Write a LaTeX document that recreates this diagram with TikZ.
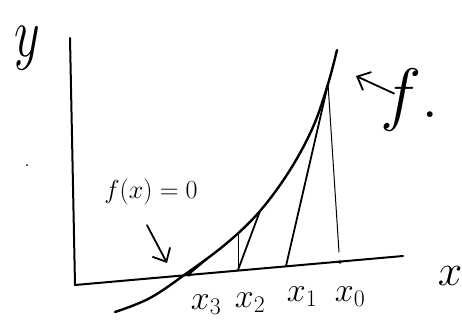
\RequirePackage{fix-cm}
\documentclass[tikz,border=0pt]{standalone}
\usetikzlibrary{calc, positioning}
\usetikzlibrary{arrows.meta}

\tikzset{
  axis line/.style={line width=2pt},
  curve line/.style={line width=2.4pt},
  tan line/.style={line width=1.8pt},
  thin line/.style={line width=1pt},
  pointer/.style={line width=1.8pt, -{Straight Barb[length=11pt, width=20pt, line width=1.8pt]}},
  handlab/.style={inner sep=0pt}
}

\begin{document}
\begin{tikzpicture}[x=1pt, y=-1pt, line cap=round, line join=round]
\useasboundingbox (0,0) rectangle (462,324);

% axes
\coordinate (O) at (75,285);
\coordinate (Ytop) at (70,38);
\coordinate (Xend) at (403,256);
\draw[axis line] (Ytop) -- (O) -- (Xend);

% iterates on the x axis
\coordinate (X0) at (340,262);
\coordinate (X1) at (286,266);
\coordinate (X2) at (238,270);
\coordinate (X3) at (189,274);

% points on the curve
\coordinate (P0) at (328,84);
\coordinate (P1) at (260,211);
\coordinate (P2) at (238,233);
\coordinate (P3) at (207,259);

\draw[curve line] plot[smooth, tension=0.6] coordinates
  {(115,312) (150,298) (187,273) (227,243) (260,211) (290,170) (313,127) (328,84) (337,50)};

\draw[thin line] (P0) -- ($(X0)+(-1,-10)$);
\fill (X0) circle (1.8);
\draw[tan line] (P0) -- (X1);
\draw[tan line] (P1) -- (X2);
\draw[thin line] (P2) -- (X2);
\draw[tan line] (P3) -- (X3);
\fill (X3) circle (2.5);

% labels
\node[handlab, font=\fontsize{50}{60}\selectfont] (ylab) at (27,48) {\scalebox{1}[1.4]{$y$}};
\node[handlab, font=\fontsize{44}{52}\selectfont] (xlab) at (450,276) {$x$};
\node[handlab, font=\fontsize{34}{40}\selectfont] (x3lab) at (206,305) {$x_3$};
\node[handlab, font=\fontsize{34}{40}\selectfont] (x2lab) at (250,303) {$x_2$};
\node[handlab, font=\fontsize{34}{40}\selectfont] (x1lab) at (302,297) {$x_1$};
\node[handlab, font=\fontsize{34}{40}\selectfont] (x0lab) at (350,297) {$x_0$};

\node[handlab, font=\fontsize{26}{30}\selectfont] (zlab) at (151,192) {$f(x)=0$};
\coordinate (ztip) at (167,263);
\draw[pointer] ($(zlab.south)+(-4,20)$) -- (ztip);

\node[handlab, font=\fontsize{70}{80}\selectfont, anchor=base west] (flab) at (380,117) {$f$.};
\coordinate (ftip) at (356,76);
\draw[pointer] ($(flab.west)+(14,-6)$) -- (ftip);

\fill (27,165) circle (1);
\end{tikzpicture}
\end{document}
